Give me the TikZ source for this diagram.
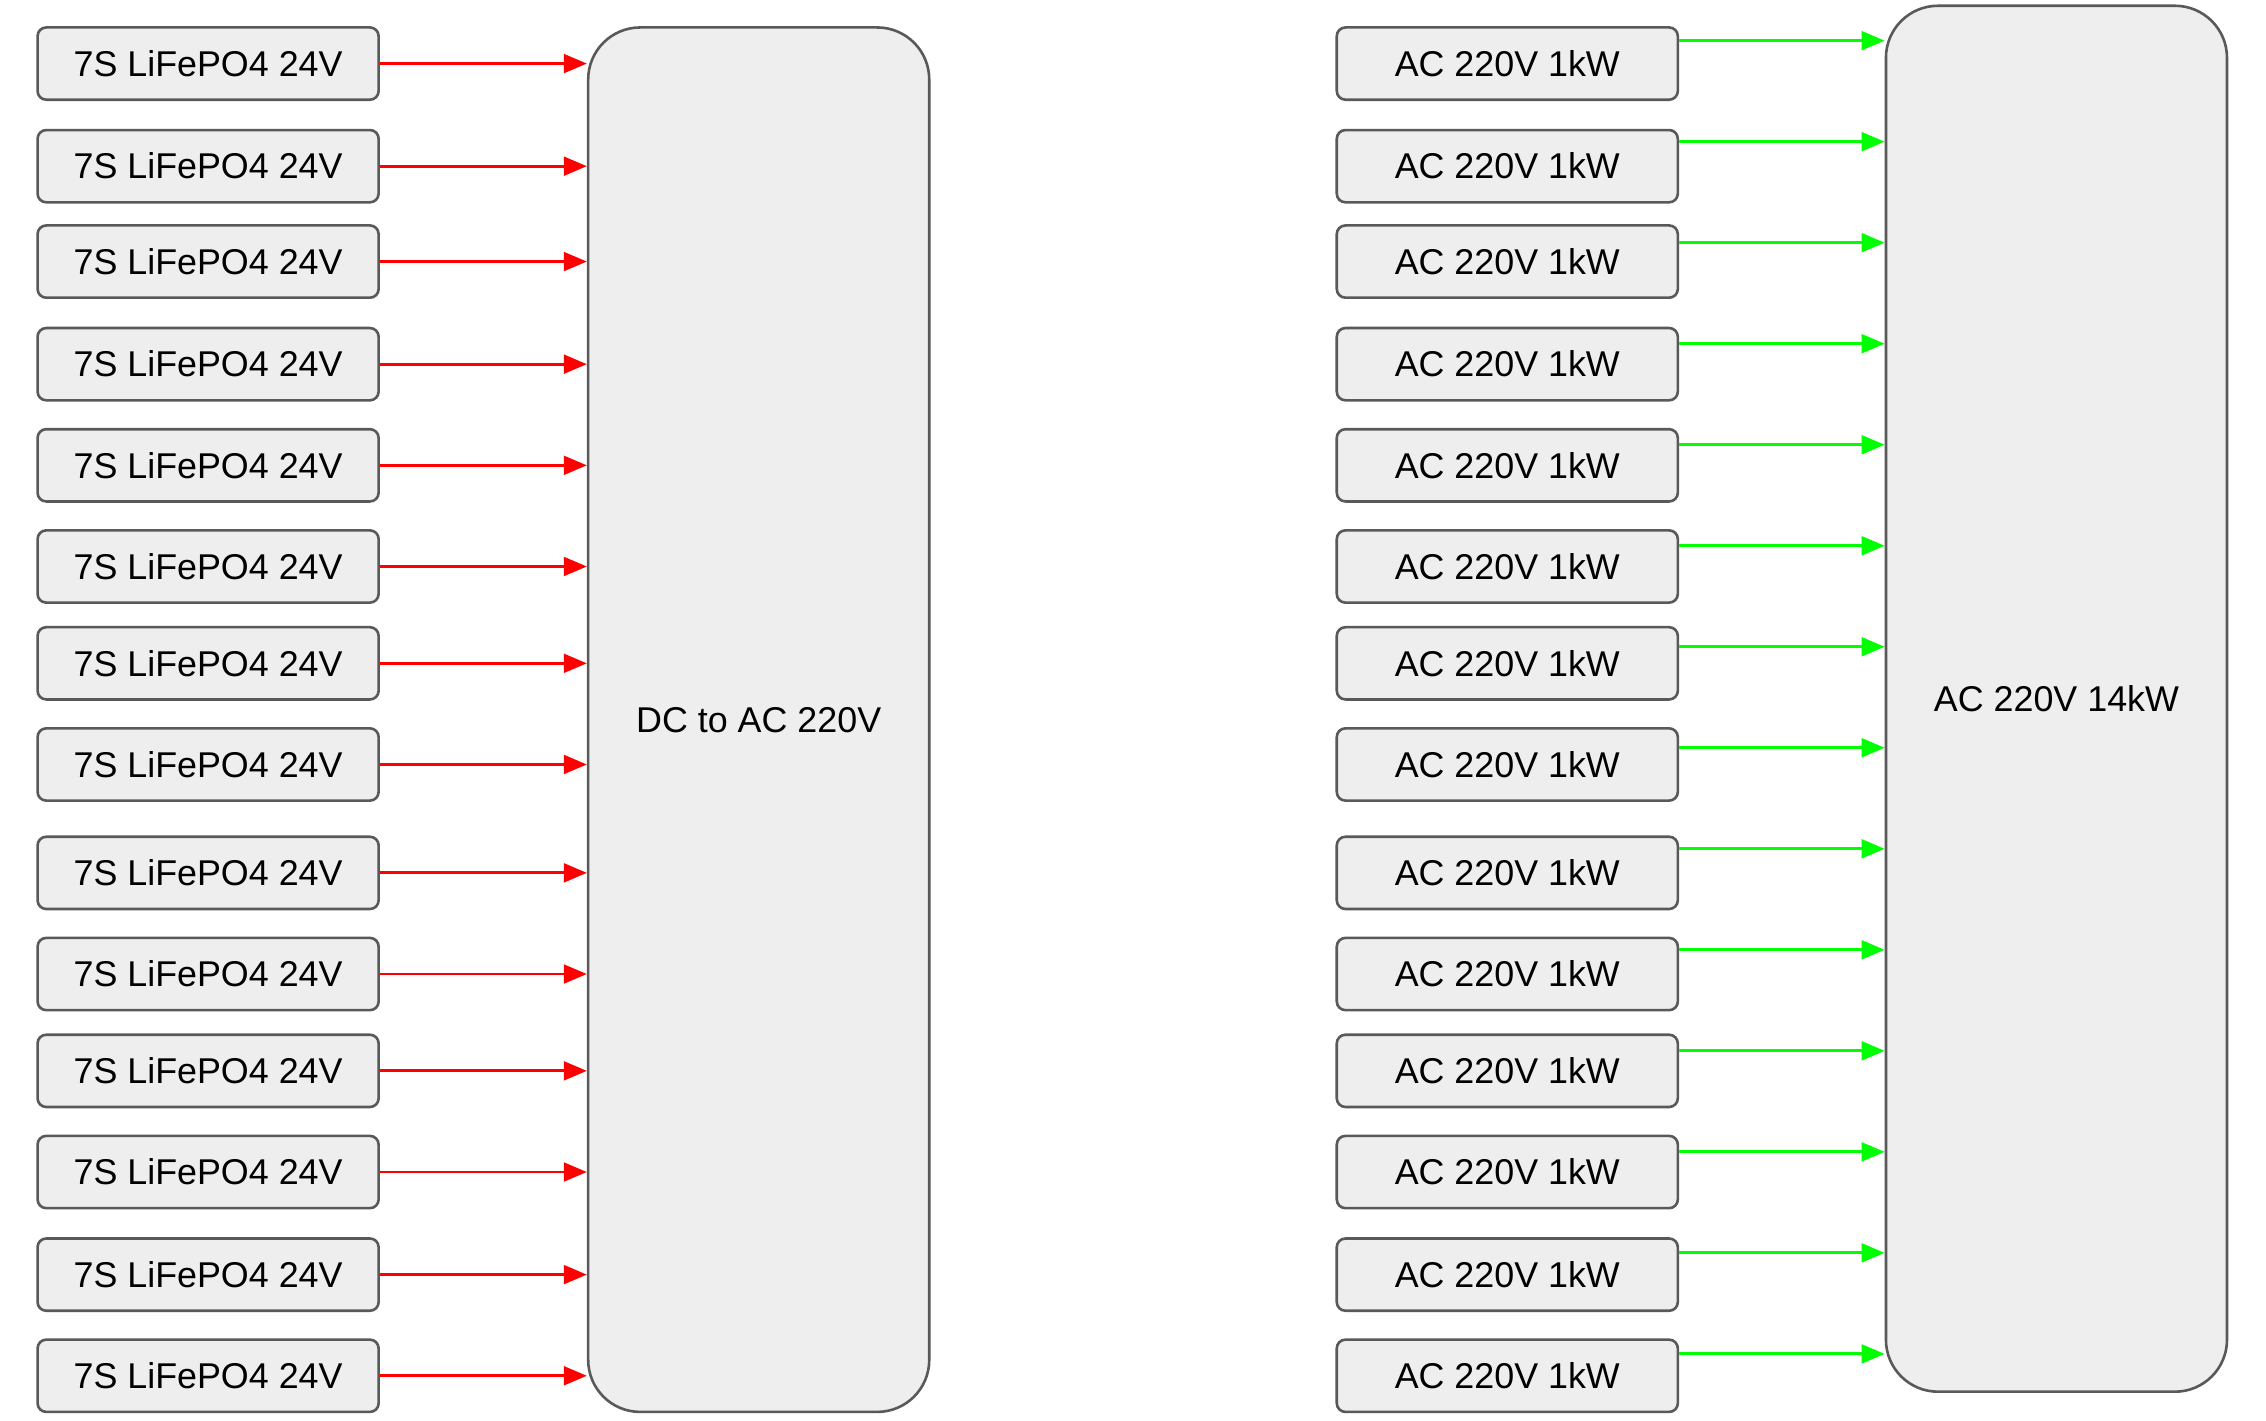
\documentclass[tikz,border=0pt]{standalone}
\usepackage{fontspec}
\setmainfont{Liberation Sans}
\usetikzlibrary{arrows.meta,positioning,calc}
\definecolor{boxfill}{HTML}{EEEEEE}
\definecolor{boxline}{HTML}{595959}
\definecolor{dcred}{HTML}{FF0000}
\definecolor{acgreen}{HTML}{00FF00}

\begin{document}
\begin{tikzpicture}[x=0.5pt, y=-0.5pt,
    cell/.style={draw=boxline, fill=boxfill, line width=0.9pt, rounded corners=3pt, minimum width=118pt, minimum height=25pt, inner sep=0pt, font=\fontsize{12.4}{14}\selectfont},
    block/.style={cell, rounded corners=18pt, minimum height=479pt},
    dcarrow/.style={-{Triangle[length=8pt, width=6.5pt]}, dcred, line width=1pt},
    acarrow/.style={dcarrow, acgreen}
]
\useasboundingbox (0,0) rectangle (1568,983);
\node[block] (inv) at (525,498) {DC to AC 220V};
\node[block, minimum height=479.5pt] (bus) at (1423,483.5) {AC 220V 14kW};
\foreach \y [count=\i] in {44,115,181,252,322,392,459,529,604,674,741,811,882,952} {
  \node[cell] (bat\i) at (144,\y) {7S LiFePO4 24V};
  \node[cell] (ac\i) at (1043,\y) {AC 220V 1kW};
  \draw[dcarrow] (bat\i) -- (inv.west |- bat\i);
  \pgfmathsetmacro{\f}{(25+(\i-1)*69.77)/959}
  \coordinate (tap\i) at ($(bus.north west)!\f!(bus.south west)$);
  \draw[acarrow] (ac\i.east |- tap\i) -- (tap\i);
}
\end{tikzpicture}
\end{document}
